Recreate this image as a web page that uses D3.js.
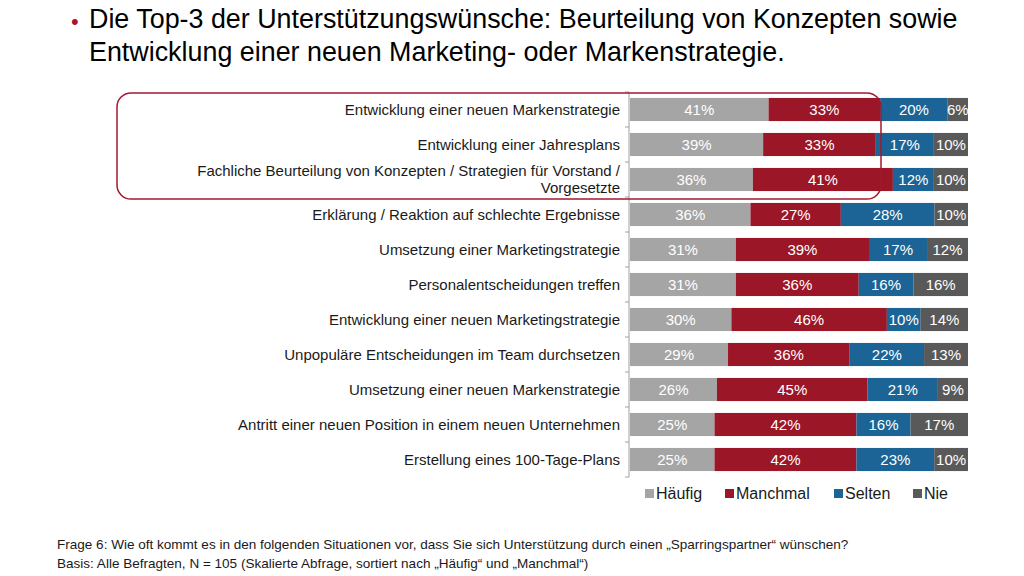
<!DOCTYPE html>
<html><head><meta charset="utf-8">
<script src="https://cdn.jsdelivr.net/npm/d3@7"></script>
<style>html,body{margin:0;padding:0;background:#fff;}svg{display:block;font-family:"Liberation Sans",Arial,sans-serif;}</style>
</head><body>
<svg id="c" width="1024" height="576"></svg>
<script>
const categories = [
  "Entwicklung einer neuen Markenstrategie",
  "Entwicklung einer Jahresplans",
  "Fachliche Beurteilung von Konzepten / Strategien für Vorstand / Vorgesetzte",
  "Erklärung / Reaktion auf schlechte Ergebnisse",
  "Umsetzung einer Marketingstrategie",
  "Personalentscheidungen treffen",
  "Entwicklung einer neuen Marketingstrategie",
  "Unpopuläre Entscheidungen im Team durchsetzen",
  "Umsetzung einer neuen Markenstrategie",
  "Antritt einer neuen Position in einem neuen Unternehmen",
  "Erstellung eines 100-Tage-Plans"
];
const seriesNames = ["Häufig", "Manchmal", "Selten", "Nie"];
const haeufig  = [41, 39, 36, 36, 31, 31, 30, 29, 26, 25, 25];
const manchmal = [33, 33, 41, 27, 39, 36, 46, 36, 45, 42, 42];
const selten   = [20, 17, 12, 28, 17, 16, 10, 22, 21, 16, 23];
const nie      = [6, 10, 10, 10, 12, 16, 14, 13, 9, 17, 10];
const colors = ["#a5a5a5", "#9b1627", "#1b6495", "#595959"];
const titleLines = ["Die Top-3 der Unterstützungswünsche: Beurteilung von Konzepten sowie",
                    "Entwicklung einer neuen Marketing- oder Markenstrategie."];
const footLines = ["Frage 6: Wie oft kommt es in den folgenden Situationen vor, dass Sie sich Unterstützung durch einen „Sparringspartner“ wünschen?",
                   "Basis: Alle Befragten, N = 105 (Skalierte Abfrage, sortiert nach „Häufig“ und „Manchmal“)"];

const svg = d3.select("#c");
const rows = categories.map((c, i) => ({cat: c, "Häufig": haeufig[i], "Manchmal": manchmal[i], "Selten": selten[i], "Nie": nie[i]}));
const stack = d3.stack().keys(seriesNames).offset(d3.stackOffsetExpand)(rows);

const x = d3.scaleLinear().domain([0, 1]).range([630, 968]);
const y = d3.scaleBand().domain(categories).range([92, 477]).paddingInner(0.34).paddingOuter(0.17);
const color = d3.scaleOrdinal().domain(seriesNames).range(colors);

// title
svg.append("text").attr("x", 71).attr("y", 29).attr("fill", "#a3182f")
  .style("font-size", "22px").text("•");
const tt = svg.append("g");
titleLines.forEach((t, i) => {
  tt.append("text").attr("x", 89).attr("y", 28 + i * 33)
    .attr("fill", "#000").style("font-size", "25px").text(t);
});
{
  const first = tt.select("text").node();
  const w = first.getComputedTextLength();
  const fs = 25 * 869 / w;
  tt.selectAll("text").style("font-size", fs + "px");
}

// bars
const layer = svg.append("g").selectAll("g").data(stack).join("g").attr("fill", d => color(d.key));
layer.selectAll("rect").data(d => d).join("rect")
  .attr("x", d => x(d[0])).attr("width", d => x(d[1]) - x(d[0]))
  .attr("y", d => y(d.data.cat)).attr("height", y.bandwidth());

// value labels
const lbl = svg.append("g").style("font-size", "15px").attr("fill", "#fff").attr("text-anchor", "middle");
stack.forEach(s => {
  s.forEach(d => {
    lbl.append("text").attr("x", (x(d[0]) + x(d[1])) / 2)
      .attr("y", y(d.data.cat) + y.bandwidth() / 2 + 5.5)
      .text(d.data[s.key] + "%");
  });
});

// axis
const axis = d3.axisLeft(y).tickSize(0).tickFormat("");
const ax = svg.append("g").attr("transform", "translate(629,0)").call(axis);
ax.select(".domain").attr("stroke", "#a0a0a0").attr("d", `M0,${y.range()[0]}V${y.range()[1]}`);
const bounds = d3.range(categories.length + 1).map(i => y.range()[0] + i * y.step());
ax.selectAll(".sep").data(bounds).join("line").attr("class", "sep")
  .attr("x1", -4).attr("x2", 0).attr("y1", d => d).attr("y2", d => d).attr("stroke", "#a0a0a0");

// category labels with wrapping
const cl = svg.append("g").style("font-size", "15px").attr("fill", "#1a1a1a").attr("text-anchor", "end");
categories.forEach(c => {
  const cy = y(c) + y.bandwidth() / 2;
  const t = cl.append("text").attr("x", 620);
  const words = c.split(" ");
  let lines = [], cur = [];
  const maxW = 432;
  const probe = cl.append("text");
  words.forEach(w => {
    const test = cur.concat(w).join(" ");
    probe.text(test);
    if (probe.node().getComputedTextLength() > maxW && cur.length) { lines.push(cur.join(" ")); cur = [w]; }
    else cur.push(w);
  });
  lines.push(cur.join(" "));
  probe.remove();
  const lh = 17;
  const y0 = cy + 5 - (lines.length - 1) * lh / 2;
  lines.forEach((l, i) => t.append("tspan").attr("x", 620).attr("y", y0 + i * lh).text(l));
});

// highlight rounded rect
const top3 = categories.slice(0, 3);
svg.append("rect").attr("x", 117).attr("y", y(top3[0]) - 5)
  .attr("width", 881 - 117).attr("height", y(top3[2]) + y.bandwidth() + 8 - (y(top3[0]) - 5))
  .attr("rx", 14).attr("fill", "none").attr("stroke", "#a3182f").attr("stroke-width", 1.5);

// legend
const legX = [645, 725, 834, 913];
const lg = svg.append("g").style("font-size", "16px");
seriesNames.forEach((s, i) => {
  lg.append("rect").attr("x", legX[i]).attr("y", 489).attr("width", 9).attr("height", 9).attr("fill", color(s));
  lg.append("text").attr("x", legX[i] + 11).attr("y", 499).attr("fill", "#1a1a1a").text(s);
});

// footnote
const fg = svg.append("g").style("font-size", "12px").attr("fill", "#1a1a1a");
footLines.forEach((t, i) => fg.append("text").attr("x", 57).attr("y", 549 + i * 19).text(t));
{
  const n = fg.select("text").node();
  const w = n.getComputedTextLength();
  fg.style("font-size", (12 * 792 / w) + "px");
}
</script>
</body></html>
